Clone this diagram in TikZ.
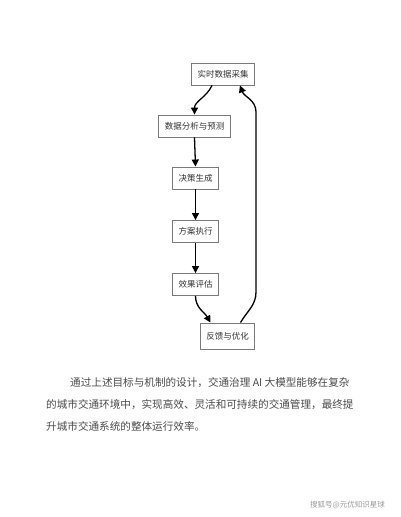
\documentclass[tikz,border=0pt]{standalone}
\usepackage{fontspec}
\setmainfont{Noto Sans CJK SC}
\usetikzlibrary{arrows.meta}
\definecolor{boxline}{HTML}{7A7A7A}
\definecolor{boxtext}{HTML}{333333}
\definecolor{bodytext}{HTML}{4A4A4A}
\definecolor{marktext}{HTML}{9A9A9A}
\begin{document}
\begin{tikzpicture}[x=1pt,y=-1pt,
    every node/.style =
    {   font=\fontsize{8.5}{10}\selectfont,
    },
    stagebox/.style =
    {   shape=rectangle, draw=boxline, line width=0.9pt,
        fill=white, text=boxtext,
        inner xsep=6pt, minimum height=22pt,
    },
    flow/.style = {-{Triangle[length=7pt,width=7pt]}, line width=1.3pt, black},
    bodyline/.style = {anchor=west, inner sep=0pt, text=bodytext,
        font=\fontsize{10.6}{12}\selectfont},
  ]
\useasboundingbox (0,0) rectangle (400,517);
\fill[white] (0,0) rectangle (400,517);
% flow chart
\node[stagebox] (collect)  at (223,74)    {实时数据采集};
\node[stagebox] (analyze)  at (194.5,126) {数据分析与预测};
\node[stagebox] (decide)   at (195.5,178) {决策生成};
\node[stagebox] (execute)  at (195.5,231.5) {方案执行};
\node[stagebox] (evaluate) at (195.5,284.5) {效果评估};
\node[stagebox, minimum height=26pt] (feedback) at (227.5,336) {反馈与优化};
\coordinate (loopbot) at (256,292);
\coordinate (looptop) at (256,112);
\draw[flow] ([xshift=-11pt]collect.south) to[out=-115,in=90] (analyze.north);
\draw[flow] (analyze.south) -- (decide.north);
\draw[flow] (decide.south) -- (execute.north);
\draw[flow] (execute.south) -- (evaluate.north);
\draw[flow] (evaluate.south) to[out=-90,in=120] ([xshift=-17pt]feedback.north);
\draw[flow] ([xshift=13pt]feedback.north) to[out=60,in=-90] (loopbot)
    -- (looptop) to[out=90,in=-70] ([xshift=17pt]collect.south);
% text below
\node[bodyline] (para1) at (70,383) {通过上述目标与机制的设计，交通治理 AI 大模型能够在复杂};
\node[bodyline] (para2) at (46,405) {的城市交通环境中，实现高效、灵活和可持续的交通管理，最终提};
\node[bodyline] (para3) at (46,426) {升城市交通系统的整体运行效率。};
\node[anchor=west, inner sep=0pt, text=marktext, font=\fontsize{7.5}{9}\selectfont]
    (mark) at (310,505) {搜狐号@元优知识星球};
\end{tikzpicture}
\end{document}
